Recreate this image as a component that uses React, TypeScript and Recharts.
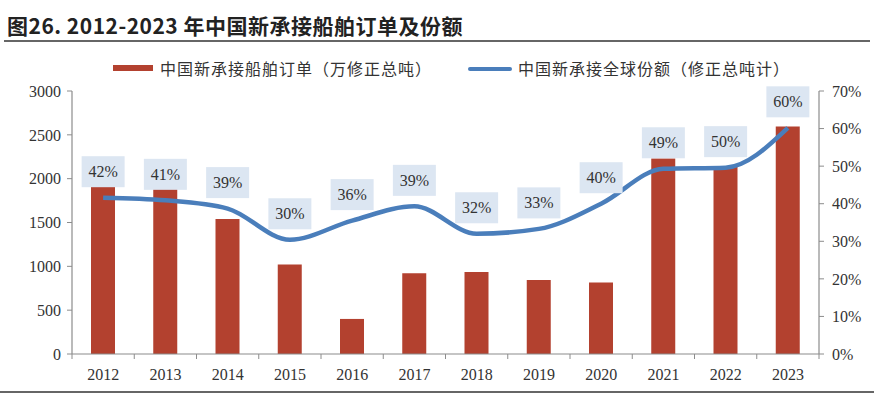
import React from 'react';
import { ComposedChart, Bar, Line, XAxis, YAxis, LabelList } from 'recharts';

const years = ['2012', '2013', '2014', '2015', '2016', '2017', '2018', '2019', '2020', '2021', '2022', '2023'];
const orders = [1910, 1890, 1540, 1020, 400, 920, 935, 845, 815, 2230, 2145, 2595];
const shares = [41.6, 40.9, 38.7, 30.4, 35.5, 39.3, 32.0, 33.3, 40.0, 49.3, 49.6, 60.2];
const leftTicks = [0, 500, 1000, 1500, 2000, 2500, 3000];
const rightTicks = [0, 10, 20, 30, 40, 50, 60, 70];

const title = '图26. 2012-2023 年中国新承接船舶订单及份额';
const barName = '中国新承接船舶订单（万修正总吨）';
const lineName = '中国新承接全球份额（修正总吨计）';

const data = years.map((y, i) => ({ year: y, orders: orders[i], share: shares[i] }));

const W = 874;
const H = 396;
const PLOT_LEFT = 72;
const PLOT_RIGHT = 819;
const BAND = (PLOT_RIGHT - PLOT_LEFT) / years.length;
const AXIS = '#8c8c8c';
const TEXT = '#333333';
const SERIF = '"Liberation Serif", "Times New Roman", serif';
const CJK = '"Noto Sans CJK SC", sans-serif';
const BAR = '#B3412F';
const LINE = '#4A7EBB';

const XTick = (props: any) => {
  const { x, y, payload, index } = props;
  return (
    <g>
      <line x1={x - BAND / 2} x2={x - BAND / 2} y1={y} y2={y + 5} stroke={AXIS} strokeWidth={1} />
      {index === years.length - 1 && (
        <line x1={x + BAND / 2} x2={x + BAND / 2} y1={y} y2={y + 5} stroke={AXIS} strokeWidth={1} />
      )}
      <text x={x} y={y + 20} textAnchor="middle" dominantBaseline="central" fontFamily={SERIF} fontSize={16} fill={TEXT}>
        {payload.value}
      </text>
    </g>
  );
};

const renderShareLabel = (props: any) => {
  const { x, y, value } = props;
  const w = 43;
  const h = 31;
  const cy = y - 26;
  return (
    <g>
      <rect x={x - w / 2} y={cy - h / 2} width={w} height={h} fill="#DCE6F2" />
      <text x={x} y={cy} textAnchor="middle" dominantBaseline="central" fontFamily={SERIF} fontSize={16} fill={TEXT}>
        {Math.round(value)}%
      </text>
    </g>
  );
};

export default function App() {
  return (
    <div style={{ position: 'absolute', left: 0, top: 0, width: W, height: H, overflow: 'hidden', background: '#fff' }}>
      <ComposedChart width={W} height={H} data={data} margin={{ top: 91, right: 0, bottom: 12, left: 10 }}>
        <XAxis
          dataKey="year"
          xAxisId="x"
          height={30}
          tickSize={0}
          tickMargin={0}
          tickLine={false}
          axisLine={{ stroke: AXIS, strokeWidth: 1.2 }}
          tick={<XTick />}
          interval={0}
        />
        <YAxis
          yAxisId="left"
          width={62}
          domain={[0, 3000]}
          ticks={leftTicks}
          interval={0}
          tickSize={5}
          tickMargin={6}
          tickLine={{ stroke: AXIS }}
          axisLine={{ stroke: AXIS, strokeWidth: 1.2 }}
          tick={{ fontFamily: SERIF, fontSize: 16, fill: TEXT }}
        />
        <YAxis
          yAxisId="right"
          orientation="right"
          width={55}
          domain={[0, 70]}
          ticks={rightTicks}
          interval={0}
          tickSize={5}
          tickMargin={8}
          tickFormatter={(v: number) => `${v}%`}
          tickLine={{ stroke: AXIS }}
          axisLine={{ stroke: AXIS, strokeWidth: 1.2 }}
          tick={{ fontFamily: SERIF, fontSize: 16, fill: TEXT }}
        />
        <Bar xAxisId="x" yAxisId="left" dataKey="orders" fill={BAR} barSize={24} isAnimationActive={false} />
        <Line
          xAxisId="x"
          yAxisId="right"
          dataKey="share"
          type="monotone"
          stroke={LINE}
          strokeWidth={4.5}
          dot={false}
          activeDot={false}
          isAnimationActive={false}
        >
          <LabelList dataKey="share" content={renderShareLabel} />
        </Line>
      </ComposedChart>

      <div
        style={{
          position: 'absolute',
          left: 7,
          top: 11,
          fontFamily: '"Liberation Sans Narrow", "Noto Sans CJK SC", sans-serif',
          fontWeight: 'bold',
          fontSize: 21,
          color: '#222',
          whiteSpace: 'nowrap',
          lineHeight: '28px',
          letterSpacing: 0.5,
        }}
      >
        {title}
      </div>
      <div style={{ position: 'absolute', left: 4, right: 4, top: 40, height: 2, background: '#666' }} />

      <div style={{ position: 'absolute', left: 113, top: 65, width: 40, height: 6, background: BAR }} />
      <div
        style={{
          position: 'absolute',
          left: 160,
          top: 57,
          fontFamily: CJK,
          fontSize: 16,
          color: TEXT,
          whiteSpace: 'nowrap',
          lineHeight: '22px',
          letterSpacing: 1,
        }}
      >
        {barName}
      </div>
      <div style={{ position: 'absolute', left: 468, top: 67, width: 44, height: 4, borderRadius: 2, background: LINE }} />
      <div
        style={{
          position: 'absolute',
          left: 518,
          top: 57,
          fontFamily: CJK,
          fontSize: 16,
          color: TEXT,
          whiteSpace: 'nowrap',
          lineHeight: '22px',
          letterSpacing: 1,
        }}
      >
        {lineName}
      </div>

      <div style={{ position: 'absolute', left: 0, right: 0, top: 391, height: 1.5, background: '#666' }} />
    </div>
  );
}
